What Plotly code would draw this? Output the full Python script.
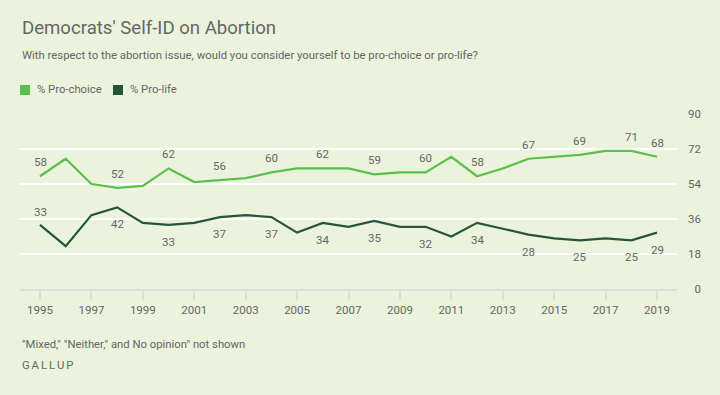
import plotly.graph_objects as go

years = list(range(1995, 2020))
pro_choice = [58, 67, 54, 52, 53, 62, 55, 56, 57, 60, 62, 62, 62, 59, 60, 60, 68, 58, 62, 67, 68, 69, 71, 71, 68]
pro_life = [33, 22, 38, 42, 34, 33, 34, 37, 38, 37, 29, 34, 32, 35, 32, 32, 27, 34, 31, 28, 26, 25, 26, 25, 29]
labeled_years = [1995, 1998, 2000, 2002, 2004, 2006, 2008, 2010, 2012, 2014, 2016, 2018, 2019]
y_ticks = [0, 18, 36, 54, 72, 90]
x_ticks = list(range(1995, 2020, 2))
series_names = ["% Pro-choice", "% Pro-life"]

LIGHT = "#5CBF4C"
DARK = "#24573A"
BG = "#EBF3DC"
TXT = "#666666"
FONT = "Roboto, sans-serif"

W, H = 720, 395
PL, PR, PT, PB = 20, 677, 114, 289  # plot area in window pixels


def px(x):
    return (x - PL) / (PR - PL)


def py(y):
    return (PB - y) / (PB - PT)


fig = go.Figure()
fig.add_trace(go.Scatter(x=years, y=pro_choice, mode="lines", line=dict(color=LIGHT, width=2.2),
                         showlegend=False, hoverinfo="x+y"))
fig.add_trace(go.Scatter(x=years, y=pro_life, mode="lines", line=dict(color=DARK, width=2.2),
                         showlegend=False, hoverinfo="x+y"))

# data labels
for yr, v in zip(years, pro_choice):
    if yr in labeled_years:
        fig.add_annotation(x=yr, y=v, text=str(v), showarrow=False, yshift=14,
                           font=dict(size=11.5, color=TXT, family=FONT))
for yr, v in zip(years, pro_life):
    if yr in labeled_years:
        fig.add_annotation(x=yr, y=v, text=str(v), showarrow=False,
                           yshift=13 if yr == 1995 else -17,
                           font=dict(size=11.5, color=TXT, family=FONT))

fig.update_layout(
    width=W, height=H,
    paper_bgcolor=BG, plot_bgcolor=BG,
    margin=dict(l=PL, r=W - PR, t=PT, b=H - PB),
    font=dict(family=FONT, color=TXT, size=11),
    showlegend=False,
    xaxis=dict(range=[1994.222, 2019.778], tickvals=x_ticks, ticktext=[str(v) for v in x_ticks],
               showgrid=False, zeroline=False, showline=True, linecolor="#DDDDDD", linewidth=2,
               ticks="outside", ticklen=9, tickwidth=2, tickcolor="#DDDDDD",
               tickfont=dict(size=11.5, color=TXT, family=FONT), fixedrange=True),
    yaxis=dict(range=[0, 90], tickvals=y_ticks,
               ticktext=[("\u2007" + str(v)) if v < 10 else str(v) for v in y_ticks],
               side="right", showgrid=True, gridcolor="#FFFFFF", gridwidth=2,
               zeroline=False, showline=False, ticks="", ticklabelstandoff=10,
               tickfont=dict(size=11.5, color=TXT, family=FONT), fixedrange=True),
)

# title & subtitle
fig.add_annotation(text="Democrats' Self-ID on Abortion", xref="paper", yref="paper",
                   x=px(20), y=py(27.5), xanchor="left", yanchor="middle", showarrow=False,
                   font=dict(size=18.6, color=TXT, family=FONT))
fig.add_annotation(text="With respect to the abortion issue, would you consider yourself to be pro-choice or pro-life?",
                   xref="paper", yref="paper", x=px(20), y=py(55), xanchor="left", yanchor="middle",
                   showarrow=False, font=dict(size=11.35, color=TXT, family=FONT))

# legend
for (x0, col, name) in [(20, LIGHT, series_names[0]), (113, DARK, series_names[1])]:
    fig.add_shape(type="rect", xref="paper", yref="paper", x0=px(x0), x1=px(x0 + 10),
                  y0=py(95), y1=py(85), fillcolor=col, line=dict(width=0))
    fig.add_annotation(text=name, xref="paper", yref="paper", x=px(x0 + 15), y=py(90),
                       xanchor="left", yanchor="middle", showarrow=False,
                       font=dict(size=11.3, color=TXT, family=FONT))

# footnotes
fig.add_annotation(text="\"Mixed,\" \"Neither,\" and No opinion\" not shown",
                   xref="paper", yref="paper", x=px(20), y=py(344), xanchor="left", yanchor="middle",
                   showarrow=False, font=dict(size=11.3, color=TXT, family=FONT))
fig.add_annotation(text="\u2006".join("GALLUP"),
                   xref="paper", yref="paper", x=px(20), y=py(365), xanchor="left", yanchor="middle",
                   showarrow=False, font=dict(size=11.3, color=TXT, family=FONT))

fig.write_html("out.html", config={"displayModeBar": False},
               post_script="document.body.style.margin='0';document.body.style.background='%s';" % BG)
